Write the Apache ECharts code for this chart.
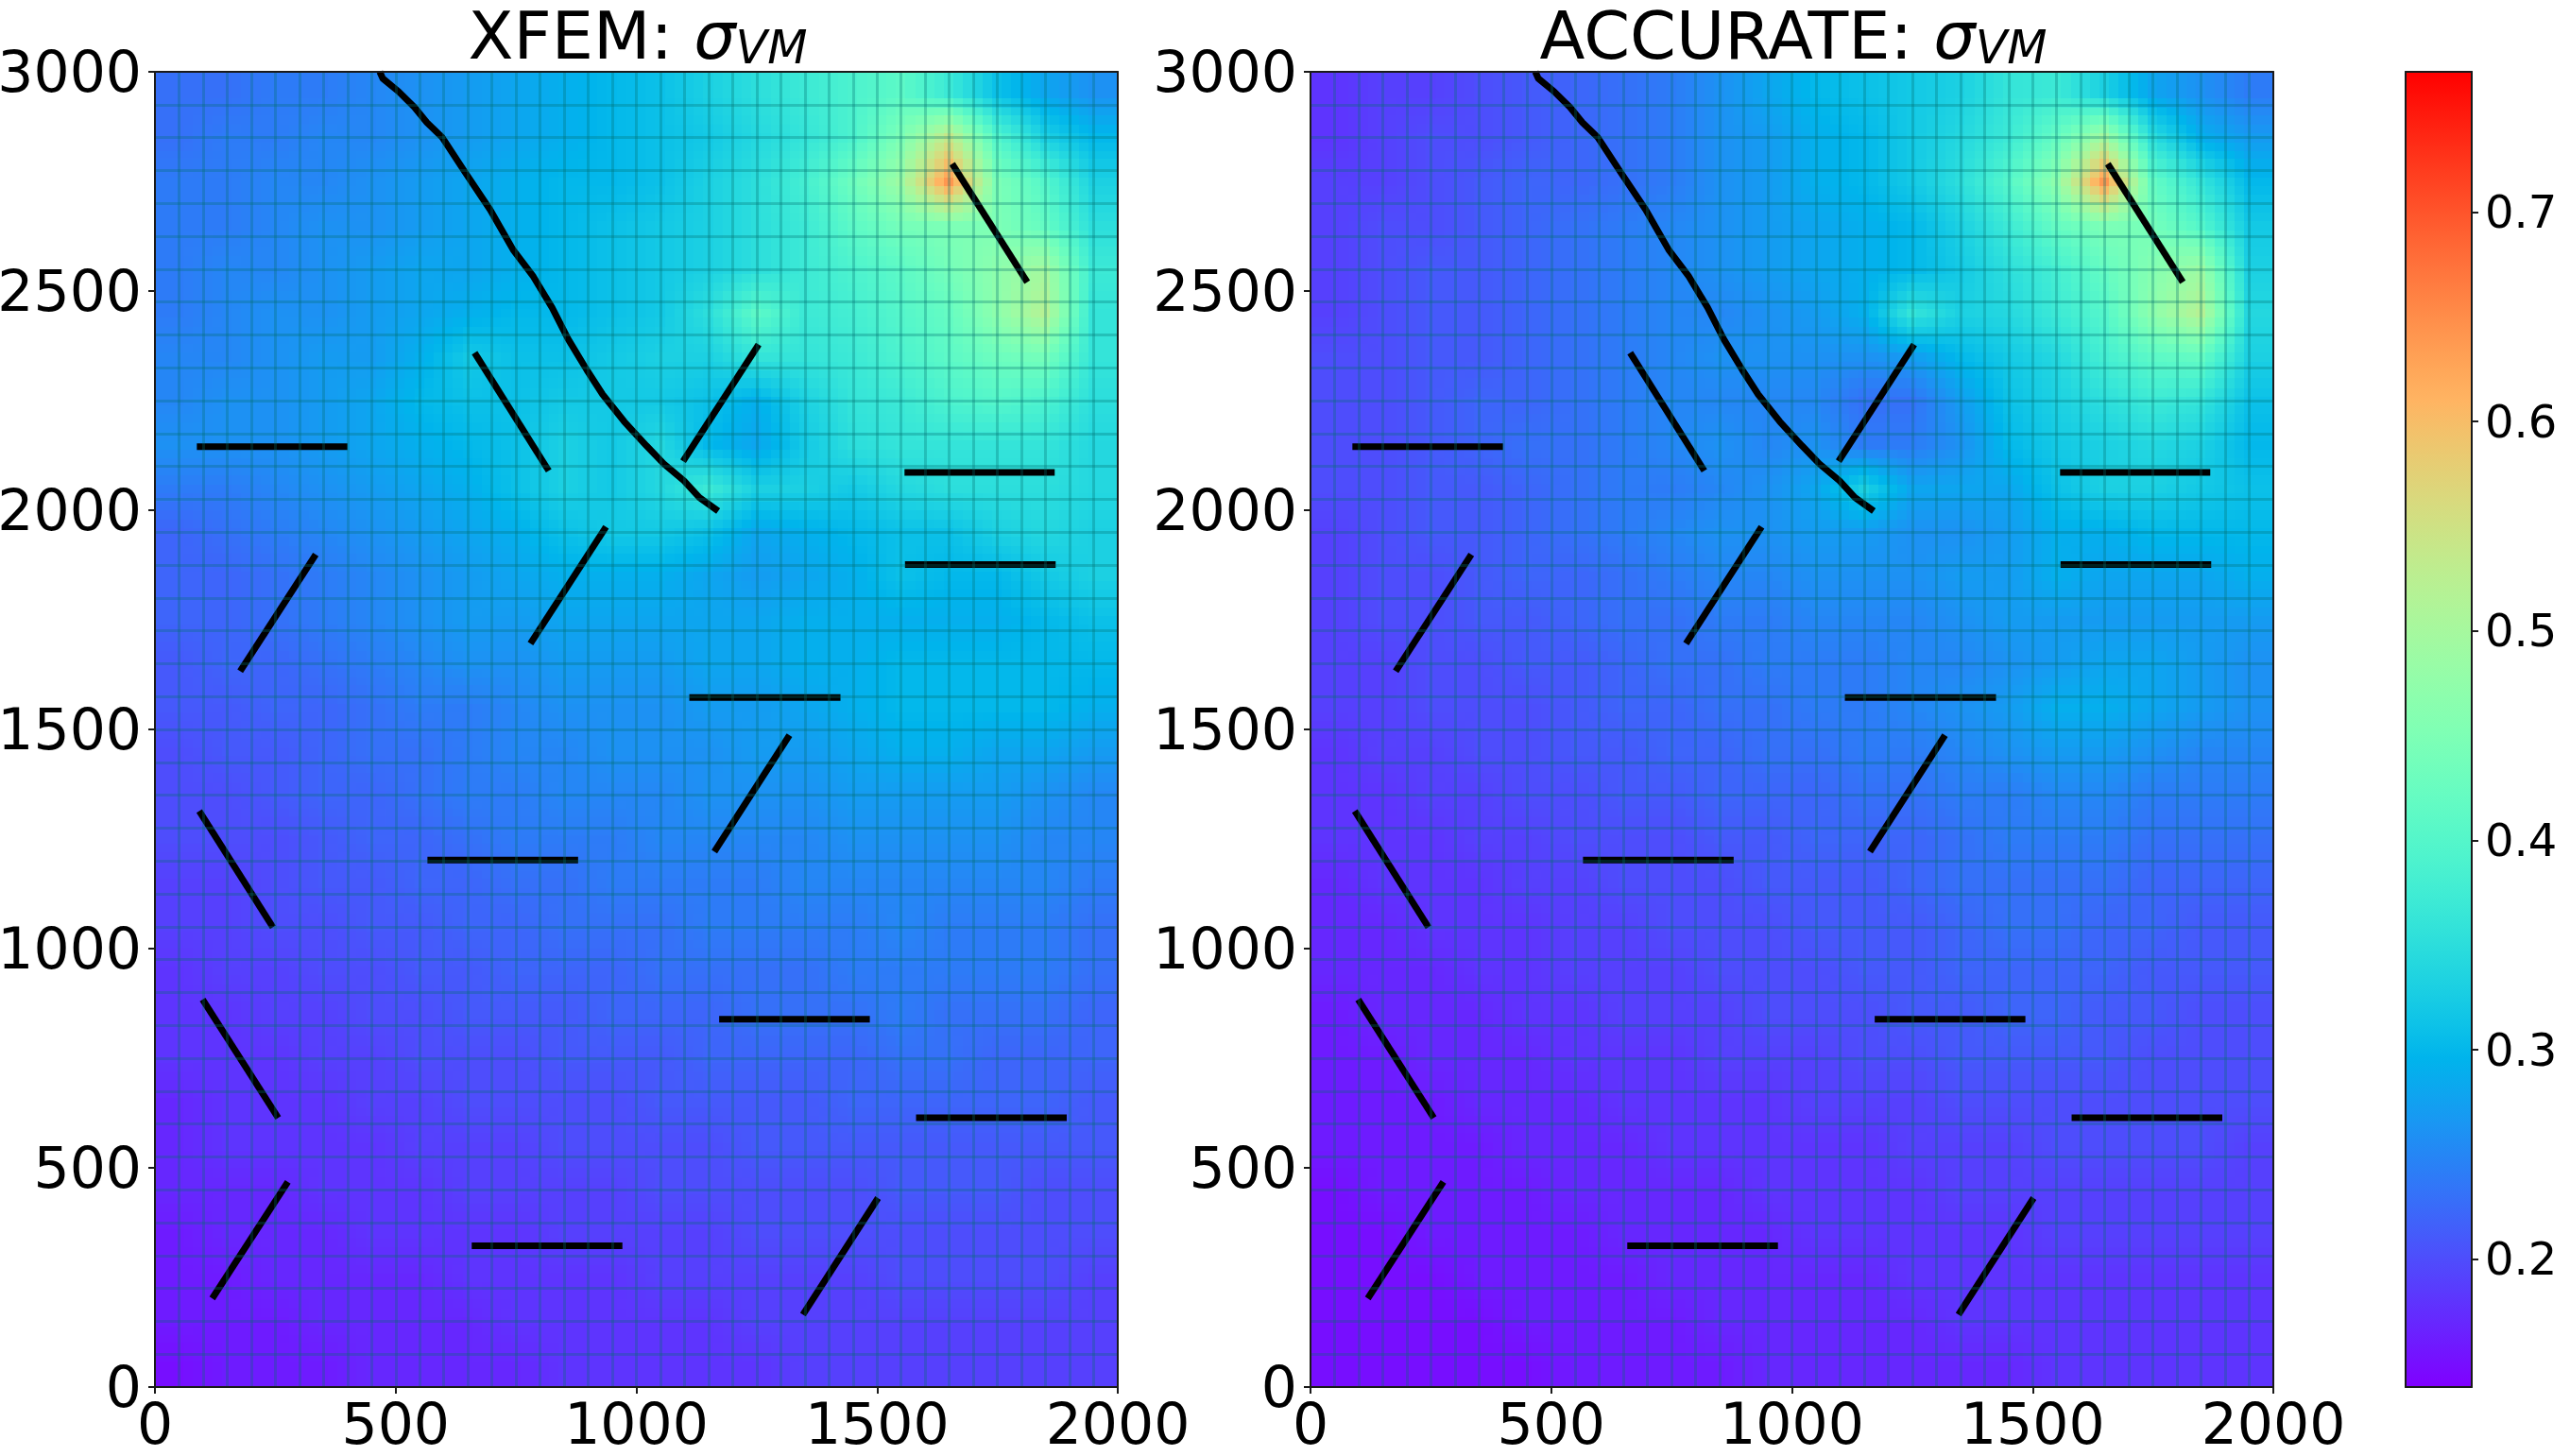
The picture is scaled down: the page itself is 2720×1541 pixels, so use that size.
<!DOCTYPE html>
<html>
<head>
<meta charset="utf-8">
<title>XFEM vs ACCURATE</title>
<style>
html, body { margin: 0; padding: 0; background: #fff; }
#main { width: 2720px; height: 1541px; }
</style>
<script src="https://cdn.jsdelivr.net/npm/echarts@6/dist/echarts.min.js"></script>
</head>
<body>
<div id="main"></div>
<script>
// cell centres of the stress field, x left to right, y top to bottom
var cellX = [50, 150, 250, 350, 450, 550, 650, 750, 850, 950, 1050, 1150, 1250, 1350, 1450, 1550, 1650, 1750, 1850, 1950];
var cellY = [2950, 2850, 2750, 2650, 2550, 2450, 2350, 2250, 2150, 2050, 1950, 1850, 1750, 1650, 1550, 1450, 1350, 1250, 1150, 1050, 950, 850, 750, 650, 550, 450, 350, 250, 150, 50];

var xfemField = [
    [.23,.23,.24,.24,.25,.26,.27,.28,.29,.30,.31,.33,.35,.37,.39,.41,.37,.31,.28,.26],
    [.23,.24,.24,.25,.25,.26,.27,.28,.29,.30,.31,.32,.34,.36,.39,.45,.54,.40,.33,.30],
    [.24,.24,.25,.25,.26,.27,.28,.29,.30,.30,.31,.33,.35,.38,.43,.49,.64,.45,.40,.33],
    [.24,.24,.25,.26,.26,.27,.28,.29,.30,.31,.32,.33,.35,.37,.41,.44,.45,.45,.42,.35],
    [.24,.25,.25,.26,.27,.28,.28,.29,.30,.31,.32,.33,.35,.37,.39,.41,.44,.47,.50,.37],
    [.24,.25,.26,.26,.27,.28,.29,.30,.30,.31,.32,.35,.41,.37,.38,.40,.42,.47,.52,.36],
    [.25,.25,.26,.27,.27,.29,.32,.31,.31,.32,.33,.33,.36,.36,.37,.39,.41,.43,.44,.36],
    [.25,.26,.26,.27,.28,.30,.31,.31,.32,.32,.32,.31,.29,.33,.36,.37,.39,.40,.39,.35],
    [.26,.26,.26,.27,.28,.29,.30,.31,.33,.32,.34,.30,.28,.32,.35,.36,.36,.36,.36,.34],
    [.24,.24,.25,.26,.27,.28,.29,.31,.33,.32,.34,.37,.33,.33,.32,.34,.35,.35,.35,.34],
    [.22,.23,.24,.25,.26,.27,.28,.29,.31,.32,.32,.31,.28,.29,.30,.31,.31,.33,.34,.33],
    [.22,.22,.23,.24,.25,.26,.27,.28,.29,.29,.29,.28,.27,.28,.29,.31,.30,.30,.32,.33],
    [.22,.22,.23,.24,.25,.26,.27,.27,.28,.28,.28,.28,.28,.29,.29,.29,.29,.29,.30,.31],
    [.21,.22,.22,.23,.24,.25,.26,.26,.27,.27,.27,.28,.28,.29,.29,.30,.30,.30,.30,.30],
    [.21,.21,.22,.22,.23,.24,.24,.25,.26,.26,.26,.27,.27,.28,.29,.30,.30,.30,.30,.29],
    [.20,.21,.21,.22,.23,.23,.24,.25,.25,.26,.26,.26,.27,.27,.28,.29,.29,.28,.28,.27],
    [.20,.20,.21,.22,.22,.23,.24,.24,.25,.25,.25,.26,.26,.26,.27,.27,.27,.27,.26,.25],
    [.20,.20,.20,.21,.22,.22,.23,.24,.24,.24,.25,.25,.25,.25,.26,.26,.26,.26,.25,.25],
    [.19,.19,.20,.21,.21,.22,.22,.23,.23,.24,.24,.24,.24,.25,.25,.25,.25,.25,.25,.24],
    [.19,.19,.20,.20,.21,.21,.22,.22,.23,.23,.23,.24,.24,.24,.24,.25,.24,.24,.24,.23],
    [.18,.19,.19,.20,.20,.21,.21,.22,.22,.22,.23,.23,.23,.23,.24,.24,.24,.24,.24,.23],
    [.18,.18,.19,.19,.20,.20,.21,.21,.21,.22,.22,.22,.23,.23,.23,.24,.23,.23,.23,.22],
    [.18,.18,.18,.19,.19,.20,.20,.20,.21,.21,.21,.22,.22,.22,.22,.23,.23,.22,.22,.22],
    [.17,.18,.18,.18,.19,.19,.20,.20,.20,.20,.21,.21,.21,.21,.22,.22,.22,.22,.22,.21],
    [.17,.18,.18,.18,.18,.19,.19,.19,.20,.20,.20,.20,.21,.21,.21,.21,.21,.21,.21,.21],
    [.17,.17,.17,.18,.18,.18,.19,.19,.19,.19,.20,.20,.20,.20,.20,.21,.21,.21,.20,.20],
    [.16,.17,.17,.17,.18,.18,.18,.18,.19,.19,.19,.19,.20,.20,.20,.20,.20,.20,.20,.20],
    [.16,.16,.17,.17,.17,.17,.18,.18,.18,.18,.19,.19,.19,.19,.19,.20,.20,.20,.20,.19],
    [.16,.16,.16,.17,.17,.17,.17,.18,.18,.18,.18,.18,.19,.19,.19,.19,.19,.19,.19,.19],
    [.15,.16,.16,.16,.17,.17,.17,.17,.18,.18,.18,.18,.18,.19,.19,.19,.19,.19,.19,.19]
];

var accurateField = [
    [.18,.19,.19,.20,.21,.22,.23,.24,.26,.28,.30,.31,.32,.33,.36,.37,.33,.28,.26,.24],
    [.18,.19,.20,.20,.21,.22,.23,.24,.26,.27,.29,.30,.32,.34,.37,.42,.50,.35,.29,.27],
    [.19,.19,.20,.21,.22,.22,.23,.24,.26,.27,.29,.30,.32,.35,.40,.47,.64,.42,.36,.30],
    [.19,.20,.20,.21,.22,.23,.24,.25,.26,.27,.28,.29,.30,.33,.37,.42,.45,.44,.40,.32],
    [.19,.20,.21,.21,.22,.23,.24,.25,.26,.27,.28,.29,.30,.32,.35,.38,.42,.46,.49,.33],
    [.19,.20,.21,.21,.22,.23,.24,.25,.25,.26,.27,.29,.36,.33,.34,.37,.40,.47,.52,.34],
    [.20,.20,.21,.21,.22,.23,.24,.25,.26,.26,.26,.26,.27,.30,.32,.34,.38,.41,.42,.33],
    [.20,.20,.21,.22,.22,.23,.24,.25,.25,.25,.25,.23,.23,.27,.31,.33,.35,.37,.36,.31],
    [.20,.20,.21,.22,.23,.23,.24,.25,.26,.25,.26,.24,.24,.26,.30,.32,.33,.34,.33,.30],
    [.20,.20,.21,.21,.22,.23,.24,.24,.25,.26,.28,.33,.28,.28,.28,.31,.33,.33,.32,.31],
    [.19,.20,.21,.21,.22,.23,.24,.25,.26,.26,.27,.27,.26,.26,.27,.29,.29,.30,.30,.30],
    [.19,.20,.20,.21,.22,.22,.23,.24,.25,.25,.26,.26,.26,.27,.27,.29,.28,.28,.28,.29],
    [.19,.20,.20,.21,.21,.22,.23,.23,.24,.24,.25,.25,.25,.26,.27,.27,.27,.27,.27,.27],
    [.19,.19,.20,.20,.21,.21,.22,.23,.23,.24,.24,.24,.25,.25,.26,.27,.28,.28,.27,.26],
    [.19,.19,.20,.20,.20,.21,.22,.22,.23,.23,.24,.24,.25,.26,.27,.29,.29,.28,.27,.26],
    [.18,.19,.19,.20,.20,.21,.21,.22,.22,.23,.23,.24,.24,.25,.26,.27,.27,.26,.25,.25],
    [.18,.18,.19,.19,.20,.20,.21,.21,.22,.22,.22,.23,.23,.24,.24,.25,.25,.24,.24,.24],
    [.18,.18,.18,.19,.19,.20,.20,.20,.21,.21,.22,.22,.22,.23,.24,.24,.24,.23,.23,.23],
    [.17,.18,.18,.18,.19,.19,.20,.20,.20,.21,.21,.21,.22,.23,.23,.23,.23,.22,.22,.22],
    [.17,.17,.18,.18,.18,.19,.19,.20,.20,.20,.21,.21,.21,.22,.23,.23,.22,.22,.21,.21],
    [.17,.17,.17,.18,.18,.19,.19,.19,.20,.20,.20,.21,.21,.22,.22,.22,.22,.21,.21,.21],
    [.16,.17,.17,.17,.18,.18,.19,.19,.19,.20,.20,.20,.21,.21,.22,.22,.21,.21,.20,.20],
    [.16,.16,.17,.17,.17,.18,.18,.18,.19,.19,.19,.20,.20,.21,.21,.21,.21,.20,.20,.20],
    [.16,.16,.16,.17,.17,.17,.18,.18,.18,.18,.19,.19,.19,.20,.20,.20,.20,.20,.20,.20],
    [.16,.16,.16,.16,.17,.17,.17,.18,.18,.18,.18,.18,.19,.19,.19,.20,.20,.20,.20,.19],
    [.15,.16,.16,.16,.16,.17,.17,.17,.17,.18,.18,.18,.18,.19,.19,.19,.19,.19,.19,.19],
    [.15,.15,.16,.16,.16,.16,.17,.17,.17,.17,.18,.18,.18,.18,.18,.19,.19,.19,.19,.19],
    [.15,.15,.15,.16,.16,.16,.16,.17,.17,.17,.17,.17,.18,.18,.18,.18,.18,.18,.18,.18],
    [.15,.15,.15,.15,.16,.16,.16,.16,.17,.17,.17,.17,.17,.18,.18,.18,.18,.18,.18,.18],
    [.15,.15,.15,.15,.15,.16,.16,.16,.16,.17,.17,.17,.17,.17,.17,.18,.18,.18,.18,.18]
];

// cracks. Same in both panels
var straightCracks = [
    [[87, 2145], [400, 2145]],
    [[1557, 2086], [1869, 2086]],
    [[1558, 1876], [1871, 1876]],
    [[1110, 1573], [1424, 1573]],
    [[566, 1202], [879, 1202]],
    [[1172, 839], [1485, 839]],
    [[1581, 614], [1894, 614]],
    [[658, 322], [971, 322]],
    [[1656, 2790], [1812, 2520]],
    [[1097, 2112], [1254, 2378]],
    [[664, 2359], [818, 2090]],
    [[177, 1633], [334, 1899]],
    [[780, 1696], [937, 1962]],
    [[1162, 1221], [1318, 1487]],
    [[92, 1314], [245, 1049]],
    [[99, 884], [256, 614]],
    [[119, 202], [276, 468]],
    [[1346, 165], [1502, 431]]
];
var longCrack = [
    [467, 3000], [473, 2985], [506, 2955], [539, 2919], [565, 2884], [597, 2850], [643, 2773],
    [696, 2686], [744, 2594], [786, 2533], [825, 2462], [858, 2391], [897, 2320], [930, 2264],
    [975, 2202], [1021, 2147], [1057, 2106], [1099, 2067], [1131, 2029], [1170, 1998]
];

var panelTitles = ['XFEM: ', 'ACCURATE: '];
var panelLefts = [164, 1387];
var colorbarTicks = [0.2, 0.3, 0.4, 0.5, 0.6, 0.7];
var colorMin = 0.139;
var colorMax = 0.767;

var tickFont = 'DejaVu Sans';
var gridLine = 'rgba(0,110,110,0.3)';
var axisColor = '#1a1a1a';

// matplotlib "rainbow"
function rainbow(t) {
    t = Math.max(0, Math.min(1, t));
    var r = Math.min(1, Math.abs(2 * t - 0.5));
    var g = Math.sin(Math.PI * t);
    var b = Math.cos(Math.PI * t / 2);
    return 'rgb(' + Math.round(r * 255) + ',' + Math.round(g * 255) + ',' + Math.round(b * 255) + ')';
}
function valueColor(v) {
    return rainbow((v - colorMin) / (colorMax - colorMin));
}

// smooth shading between cell centres, like shading='gouraud'
function sampleField(field, x, y) {
    var fx = Math.max(0, Math.min(cellX.length - 1, (x - cellX[0]) / 100));
    var fy = Math.max(0, Math.min(cellY.length - 1, (cellY[0] - y) / 100));
    var i = Math.min(cellX.length - 2, Math.floor(fx));
    var j = Math.min(cellY.length - 2, Math.floor(fy));
    var a = fx - i, b = fy - j;
    return (field[j][i] * (1 - a) + field[j][i + 1] * a) * (1 - b) +
        (field[j + 1][i] * (1 - a) + field[j + 1][i + 1] * a) * b;
}

function fieldSeries(field, axisIndex) {
    var data = [];
    for (var j = 0; j < cellY.length; j++) {
        for (var i = 0; i < cellX.length; i++) {
            data.push([cellX[i], cellY[j], field[j][i]]);
        }
    }
    var sub = 5;
    return {
        type: 'custom',
        xAxisIndex: axisIndex,
        yAxisIndex: axisIndex,
        silent: true,
        z: 1,
        clip: true,
        encode: { x: 0, y: 1 },
        data: data,
        renderItem: function (params, api) {
            var cx = api.value(0), cy = api.value(1);
            var children = [];
            for (var m = 0; m < sub; m++) {
                for (var n = 0; n < sub; n++) {
                    var x0 = cx - 50 + 100 * m / sub, x1 = x0 + 100 / sub;
                    var y0 = cy - 50 + 100 * n / sub, y1 = y0 + 100 / sub;
                    var p0 = api.coord([x0, y1]), p1 = api.coord([x1, y0]);
                    var left = Math.floor(p0[0]), top = Math.floor(p0[1]);
                    children.push({
                        type: 'rect',
                        shape: { x: left, y: top, width: Math.ceil(p1[0]) - left, height: Math.ceil(p1[1]) - top },
                        style: { fill: valueColor(sampleField(field, (x0 + x1) / 2, (y0 + y1) / 2)) }
                    });
                }
            }
            return { type: 'group', children: children };
        }
    };
}

function crackSeries(points, axisIndex) {
    return {
        type: 'line',
        xAxisIndex: axisIndex,
        yAxisIndex: axisIndex,
        data: points,
        showSymbol: false,
        silent: true,
        z: 2,
        lineStyle: { color: '#000', width: 7, cap: 'butt', join: 'round' }
    };
}

function plainNumber(v) {
    return String(v);
}
function shiftedNumber(v) {
    return '{n|' + v + '}';
}
function shiftedBarNumber(v) {
    return '{n|' + v.toFixed(1) + '}';
}

var grids = [], xAxes = [], yAxes = [], titles = [], series = [];

panelTitles.forEach(function (name, p) {
    grids.push({ left: panelLefts[p], top: 76, width: 1019, height: 1392, outerBoundsMode: 'none' });
    titles.push({
        text: '{a|' + name + '}{b|σ}{c|VM}',
        left: panelLefts[p] + 506,
        textAlign: 'center',
        top: -10,
        textStyle: {
            fontWeight: 'normal',
            rich: {
                a: { fontFamily: tickFont, fontWeight: 'normal', fontSize: 70, color: '#000', lineHeight: 84, verticalAlign: 'bottom' },
                b: { fontFamily: tickFont, fontWeight: 'normal', fontSize: 70, fontStyle: 'italic', color: '#000', lineHeight: 84, verticalAlign: 'bottom' },
                c: { fontFamily: tickFont, fontWeight: 'normal', fontSize: 49, fontStyle: 'italic', color: '#000', lineHeight: 49, padding: [10, 0, 0, 0], verticalAlign: 'bottom' }
            }
        }
    });
});

// axes 0,1 carry ticks and labels, axes 2,3 carry the mesh and the top/right border
[0, 1].forEach(function (p) {
    xAxes.push({
        type: 'value', gridIndex: p, min: 0, max: 2000, interval: 500, position: 'bottom', z: 10,
        splitLine: { show: false },
        axisLine: { onZero: false, lineStyle: { color: axisColor, width: 2 } },
        axisTick: { length: 7, lineStyle: { color: axisColor, width: 2 } },
        axisLabel: { fontFamily: tickFont, fontSize: 60, color: '#000', margin: 14, hideOverlap: false, showMinLabel: true, showMaxLabel: true, formatter: plainNumber }
    });
    yAxes.push({
        type: 'value', gridIndex: p, min: 0, max: 3000, interval: 500, position: 'left', z: 10,
        splitLine: { show: false },
        axisLine: { onZero: false, lineStyle: { color: axisColor, width: 2 } },
        axisTick: { length: 7, lineStyle: { color: axisColor, width: 2 } },
        axisLabel: {
            margin: 14, hideOverlap: false, showMinLabel: true, showMaxLabel: true, formatter: shiftedNumber,
            rich: { n: { fontFamily: tickFont, fontSize: 60, color: '#000', padding: [10, 0, 0, 0] } }
        }
    });
});
[0, 1].forEach(function (p) {
    xAxes.push({
        type: 'value', gridIndex: p, min: 0, max: 2000, interval: 50, position: 'top', z: 10,
        axisLine: { onZero: false, lineStyle: { color: axisColor, width: 2 } },
        axisTick: { show: false },
        axisLabel: { show: false },
        splitLine: { show: true, showMinLine: false, showMaxLine: false, lineStyle: { color: gridLine, width: 3 } }
    });
    yAxes.push({
        type: 'value', gridIndex: p, min: 0, max: 3000, interval: 75, position: 'right', z: 10,
        axisLine: { onZero: false, lineStyle: { color: axisColor, width: 2 } },
        axisTick: { show: false },
        axisLabel: { show: false },
        splitLine: { show: true, showMinLine: false, showMaxLine: false, lineStyle: { color: gridLine, width: 3 } }
    });
});

series.push(fieldSeries(xfemField, 0));
series.push(fieldSeries(accurateField, 1));
[0, 1].forEach(function (p) {
    straightCracks.forEach(function (c) { series.push(crackSeries(c, p)); });
    series.push(crackSeries(longCrack, p));
});

// colorbar
grids.push({ left: 2546, top: 76, width: 70, height: 1392, outerBoundsMode: 'none' });
xAxes.push({
    type: 'value', gridIndex: 2, min: 0, max: 1, position: 'bottom', z: 10,
    axisLine: { onZero: false, lineStyle: { color: axisColor, width: 2 } },
    axisTick: { show: false }, axisLabel: { show: false }, splitLine: { show: false }
});
xAxes.push({
    type: 'value', gridIndex: 2, min: 0, max: 1, position: 'top', z: 10,
    axisLine: { onZero: false, lineStyle: { color: axisColor, width: 2 } },
    axisTick: { show: false }, axisLabel: { show: false }, splitLine: { show: false }
});
yAxes.push({
    type: 'value', gridIndex: 2, min: colorMin, max: colorMax, position: 'right', z: 10,
    axisLine: { onZero: false, lineStyle: { color: axisColor, width: 2 } },
    axisTick: { length: 7, customValues: colorbarTicks, lineStyle: { color: axisColor, width: 2 } },
    axisLabel: {
        customValues: colorbarTicks, margin: 14, formatter: shiftedBarNumber,
        rich: { n: { fontFamily: tickFont, fontSize: 48, color: '#000', padding: [8, 0, 0, 0] } }
    },
    splitLine: { show: false }
});
yAxes.push({
    type: 'value', gridIndex: 2, min: colorMin, max: colorMax, position: 'left', z: 10,
    axisLine: { onZero: false, lineStyle: { color: axisColor, width: 2 } },
    axisTick: { show: false }, axisLabel: { show: false }, splitLine: { show: false }
});

var barStops = [];
for (var s = 0; s <= 40; s++) {
    barStops.push({ offset: s / 40, color: rainbow(1 - s / 40) });
}
series.push({
    type: 'custom',
    xAxisIndex: 4,
    yAxisIndex: 4,
    silent: true,
    z: 1,
    encode: { x: 0, y: [1, 2] },
    data: [[0, colorMin, colorMax]],
    renderItem: function (params, api) {
        var a = api.coord([0, api.value(2)]);
        var b = api.coord([1, api.value(1)]);
        return {
            type: 'rect',
            shape: { x: a[0], y: a[1], width: b[0] - a[0], height: b[1] - a[1] },
            style: { fill: new echarts.graphic.LinearGradient(0, 0, 0, 1, barStops) }
        };
    }
});

var myChart = echarts.init(document.getElementById('main'), null, { renderer: 'canvas' });
myChart.setOption({
    animation: false,
    backgroundColor: '#fff',
    title: titles,
    grid: grids,
    xAxis: xAxes,
    yAxis: yAxes,
    series: series
});
</script>
</body>
</html>
